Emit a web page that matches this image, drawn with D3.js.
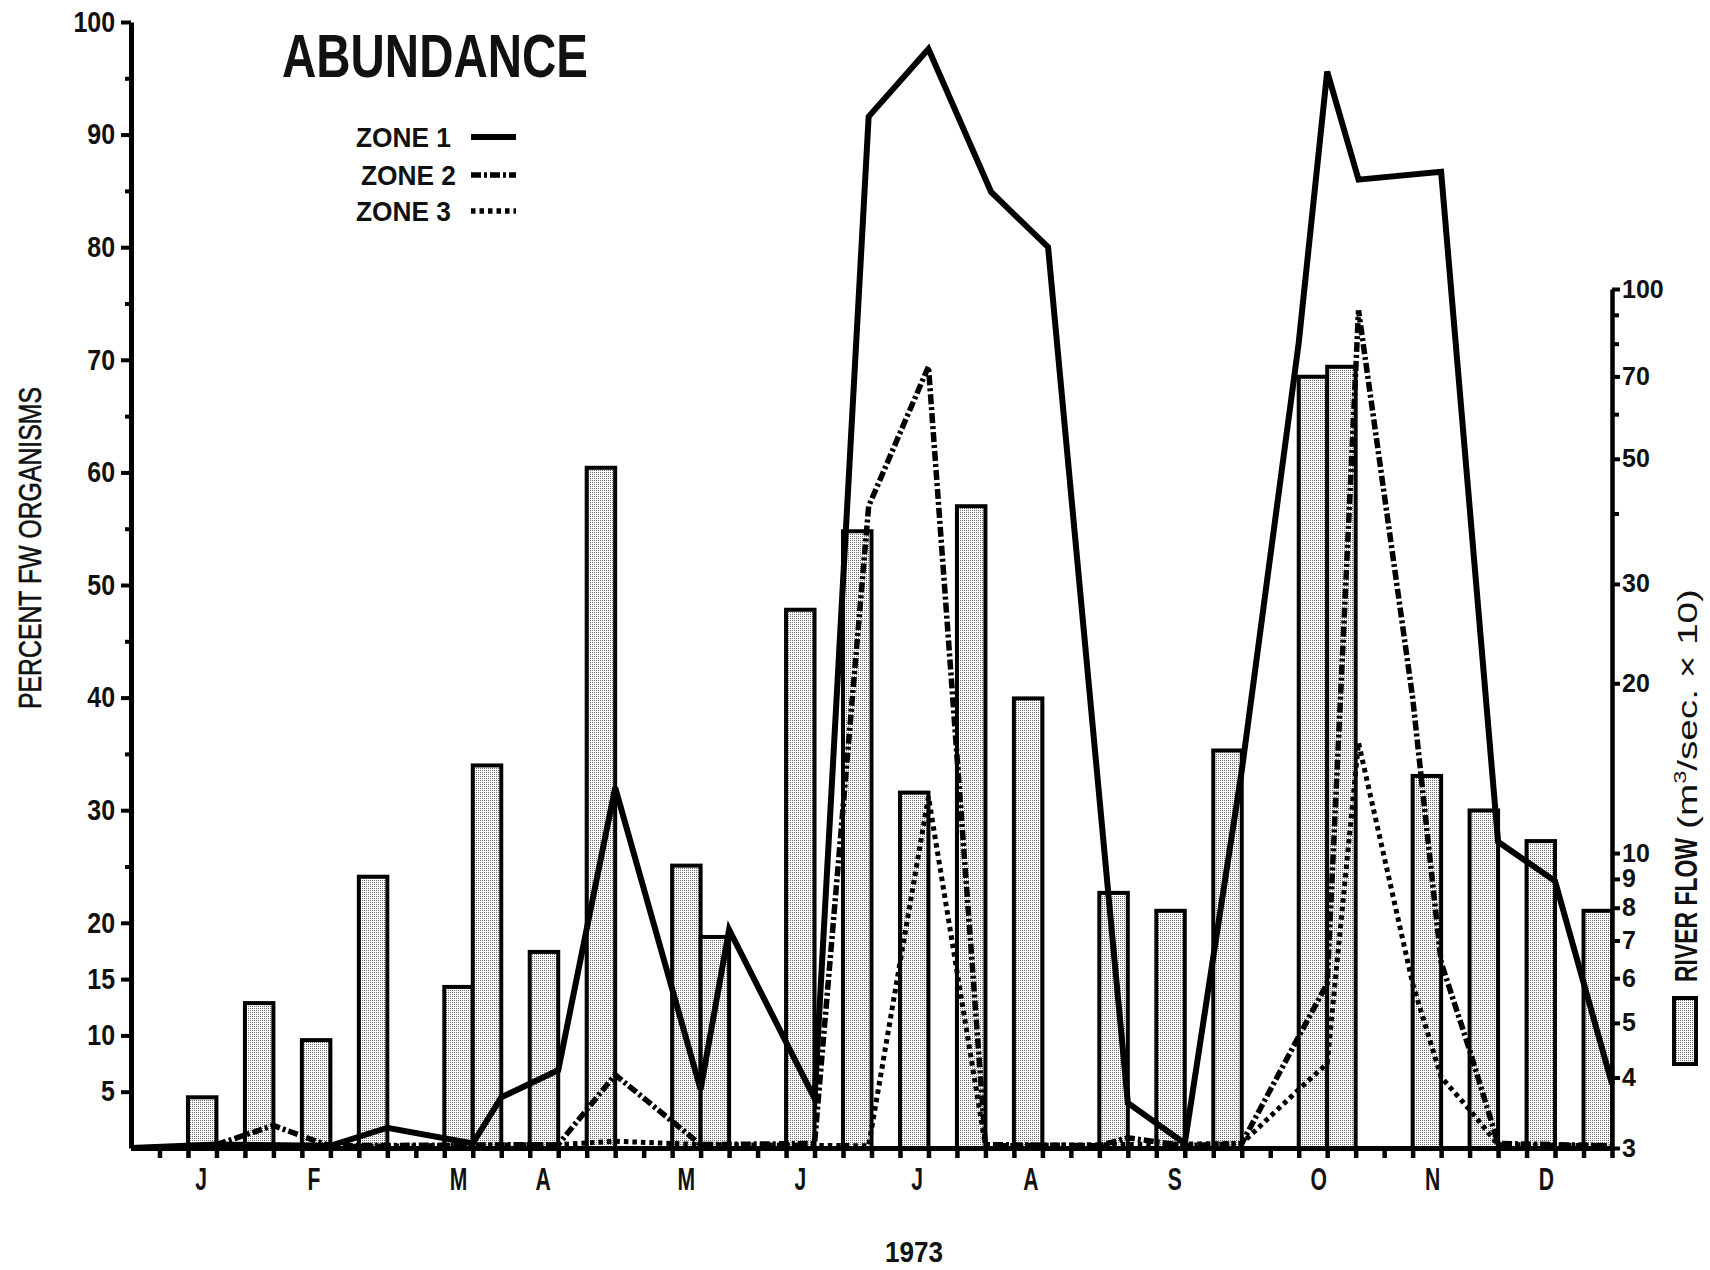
<!DOCTYPE html>
<html>
<head>
<meta charset="utf-8">
<script src="https://cdn.jsdelivr.net/npm/d3@7"></script>
<style>
  html, body { margin: 0; padding: 0; background: #fff; }
  svg { display: block; }
  text { font-family: "Liberation Sans", Arial, sans-serif; fill: #111; }
</style>
</head>
<body>
<svg id="chart" width="1710" height="1270"></svg>
<script>
// Time axis is in weeks of 1973 (0 = 1 January, 52 = end of December)
const monthLabels = ["J", "F", "M", "A", "M", "J", "J", "A", "S", "O", "N", "D"];
const monthWeeks  = [2.46, 6.42, 11.5, 14.47, 19.5, 23.5, 27.6, 31.6, 36.65, 41.7, 45.7, 49.7];

// Left axis: percent of freshwater organisms
const percentTicks      = [5, 10, 15, 20, 30, 40, 50, 60, 70, 80, 90, 100];
const percentMinorTicks = [25, 35, 45, 55, 65, 75, 85, 95];

// Right axis: river flow (m3/sec x 10), log scale
const flowTicksLabelled = [3, 4, 5, 6, 7, 8, 9, 10, 20, 30, 50, 70, 100];
const flowTicksPlain    = [40, 60, 80, 90];

// Weekly river flow bars (start week of each bar, value)
const flowWeeks  = [2, 4, 6, 8, 11, 12, 14, 16, 19, 20, 23, 25, 27, 29, 31, 34, 36, 38, 41, 42, 45, 47, 49, 51];
const flowValues = [3.69, 5.42, 4.66, 9.08, 5.79, 14.3, 6.68, 48.2, 9.5, 7.1, 27.0, 37.2,
                    12.8, 41.2, 18.8, 8.5, 7.9, 15.2, 69.9, 72.8, 13.7, 11.9, 10.5, 7.9];

// Percent FW organisms per zone: [week, percent]
const zone1 = [[0, 0], [3, 0.3], [7, 0.2], [9, 1.8], [12, 0.4], [13, 4.5], [15, 6.9], [17, 32],
               [20, 5.2], [21, 19.4], [24, 4.4], [25.9, 91.6], [28, 97.6], [30.2, 84.9], [32.2, 80],
               [35, 4.0], [37, 0.4], [39, 33.5], [41, 71.5], [42, 95.6], [43.1, 86], [46, 86.7],
               [48, 27.2], [50, 23.7], [52, 5.7]];
const zone2 = [[3, 0.3], [5, 2.0], [6.4, 0.7], [7, 0.2], [15, 0.3], [17, 6.5], [20, 0.3], [24, 0.4],
               [25.9, 57], [28, 69.4], [30, 0.3], [34, 0.2], [35, 0.9], [37, 0.2], [39, 0.4],
               [41, 9.9], [42, 14.6], [43.1, 74.4], [45, 40], [46, 16.5], [47, 8.7], [48, 0.4], [52, 0.2]];
const zone3 = [[0, 0], [15, 0.3], [17, 0.6], [20, 0.3], [25.9, 0.2], [28, 31.2], [30, 0.2], [39, 0.4],
               [41, 5.2], [42, 7.5], [43.1, 36], [45, 14.6], [46, 6.3], [47, 3.4], [48, 0.3], [52, 0.2]];

const zoneNames = ["ZONE 1", "ZONE 2", "ZONE 3"];

const svg = d3.select("#chart");

// Scales
const x  = d3.scaleLinear().domain([0, 52]).range([131, 1612]);
const yL = d3.scaleLinear().domain([0, 100]).range([1148, 22]);
const yR = d3.scaleLog().domain([3, 100]).range([1148, 289]);

// Squeeze text horizontally to imitate a condensed typeface
function condense(sel, f) {
  sel.each(function () {
    const len = this.getComputedTextLength();
    this.setAttribute("textLength", len * f);
    this.setAttribute("lengthAdjust", "spacingAndGlyphs");
  });
}
function fitTo(sel, len, adjust) {
  sel.attr("textLength", len).attr("lengthAdjust", adjust || "spacingAndGlyphs");
}

// Stippled fill for the flow bars
const defs = svg.append("defs");
const pat = defs.append("pattern").attr("id", "stipple")
  .attr("patternUnits", "userSpaceOnUse").attr("width", 2).attr("height", 2);
pat.append("rect").attr("width", 2).attr("height", 2).attr("fill", "#fff");
pat.append("rect").attr("width", 1).attr("height", 1).attr("fill", "#6e6e6e");

// River flow bars
svg.append("g").attr("class", "bars")
  .selectAll("rect")
  .data(flowWeeks.map((w, i) => ({ w, v: flowValues[i] })))
  .join("rect")
  .attr("x", d => x(d.w))
  .attr("width", d => x(d.w + 1) - x(d.w))
  .attr("y", d => yR(d.v))
  .attr("height", d => yR(3) - yR(d.v))
  .attr("fill", "url(#stipple)")
  .attr("stroke", "#000")
  .attr("stroke-width", 4);

// Zone lines
const zone2Dash = "10 3 3 3";
const zone3Dash = "4.5 4";
const line = d3.line().x(d => x(d[0])).y(d => yL(d[1]));
const zoneStyles = [
  { data: zone3, width: 5, dash: zone3Dash },
  { data: zone2, width: 5.5, dash: zone2Dash },
  { data: zone1, width: 6, dash: null }
];
svg.append("g").attr("class", "zones")
  .selectAll("path")
  .data(zoneStyles)
  .join("path")
  .attr("d", d => line(d.data))
  .attr("fill", "none")
  .attr("stroke", "#000")
  .attr("stroke-width", d => d.width)
  .attr("stroke-dasharray", d => d.dash)
  .attr("stroke-linejoin", "miter")
  .attr("stroke-miterlimit", 4);

// Bottom axis: one tick per week
const xAxis = svg.append("g").attr("transform", `translate(0,${yL(0)})`)
  .call(d3.axisBottom(x).tickValues(d3.range(1, 53)).tickSize(10).tickSizeOuter(0).tickFormat(""));
xAxis.select(".domain").attr("stroke-width", 5);
xAxis.selectAll(".tick line").attr("stroke-width", 4.5);

svg.append("g").selectAll("text")
  .data(monthLabels.map((m, i) => ({ m, w: monthWeeks[i] })))
  .join("text")
  .attr("x", d => x(d.w))
  .attr("y", 1190)
  .attr("text-anchor", "middle")
  .attr("font-size", 32)
  .attr("font-weight", "bold")
  .text(d => d.m)
  .call(condense, 0.66);

svg.append("text")
  .attr("x", 914).attr("y", 1262)
  .attr("text-anchor", "middle")
  .attr("font-size", 30).attr("font-weight", "bold")
  .text("1973")
  .call(fitTo, 58);

// Left axis
const leftAxis = svg.append("g").attr("transform", `translate(${x(0)},0)`)
  .call(d3.axisLeft(yL).tickValues(percentTicks).tickSize(10).tickSizeOuter(0).tickPadding(6));
leftAxis.select(".domain").attr("stroke-width", 5);
leftAxis.selectAll(".tick line").attr("stroke-width", 4);
leftAxis.selectAll(".tick text")
  .attr("font-size", 29).attr("font-weight", "bold").attr("fill", "#111")
  .attr("font-family", "Liberation Sans, Arial, sans-serif")
  .call(condense, 0.86);

const leftMinor = svg.append("g").attr("transform", `translate(${x(0)},0)`)
  .call(d3.axisLeft(yL).tickValues(percentMinorTicks).tickSize(6).tickSizeOuter(0).tickFormat(""));
leftMinor.select(".domain").remove();
leftMinor.selectAll(".tick line").attr("stroke-width", 4);

svg.append("text")
  .attr("transform", `translate(41,548) rotate(-90)`)
  .attr("text-anchor", "middle")
  .attr("font-size", 32)
  .attr("stroke", "#111").attr("stroke-width", 0.6)
  .text("PERCENT FW ORGANISMS")
  .call(fitTo, 322);

// Right axis
const rightAxis = svg.append("g").attr("transform", `translate(${x(52)},0)`)
  .call(d3.axisRight(yR).tickValues(flowTicksLabelled).tickSize(8).tickSizeOuter(0)
    .tickPadding(2).tickFormat(d3.format("d")));
rightAxis.select(".domain").attr("stroke-width", 4.5);
rightAxis.selectAll(".tick line").attr("stroke-width", 4);
rightAxis.selectAll(".tick text")
  .attr("font-size", 25).attr("font-weight", "bold").attr("fill", "#111")
  .attr("font-family", "Liberation Sans, Arial, sans-serif");

const rightMinor = svg.append("g").attr("transform", `translate(${x(52)},0)`)
  .call(d3.axisRight(yR).tickValues(flowTicksPlain).tickSize(7).tickSizeOuter(0).tickFormat(""));
rightMinor.select(".domain").remove();
rightMinor.selectAll(".tick line").attr("stroke-width", 4);

// Right axis title and bar key
svg.append("text")
  .attr("transform", `translate(1697,910) rotate(-90)`)
  .attr("text-anchor", "middle")
  .attr("font-size", 31).attr("font-weight", "bold")
  .text("RIVER FLOW")
  .call(condense, 0.74);

const unit = svg.append("text")
  .attr("transform", `translate(1697,709) rotate(-90)`)
  .attr("text-anchor", "middle")
  .attr("font-size", 28);
unit.append("tspan").text("(m");
unit.append("tspan").attr("dy", -11).attr("font-size", 17).text("3");
unit.append("tspan").attr("dy", 11).text("/sec.  \u00d7  10)");
unit.call(fitTo, 240);

svg.append("rect")
  .attr("x", 1674).attr("y", 998).attr("width", 22).attr("height", 66)
  .attr("fill", "url(#stipple)").attr("stroke", "#000").attr("stroke-width", 4);

// Title
svg.append("text")
  .attr("x", 282).attr("y", 77)
  .attr("font-size", 62).attr("font-weight", "bold")
  .text("ABUNDANCE")
  .call(fitTo, 306);

// Zone legend
const legendY = [147, 185, 221];
const legendDash = [null, zone2Dash, zone3Dash];
const lg = svg.append("g").selectAll("g")
  .data(zoneNames.map((n, i) => ({ n, i })))
  .join("g");
lg.append("text")
  .attr("x", d => d.i === 1 ? 361 : 356)
  .attr("y", d => legendY[d.i])
  .attr("font-size", 28).attr("font-weight", "bold")
  .text(d => d.n)
  .call(fitTo, 95);
lg.append("line")
  .attr("x1", 471).attr("x2", 516)
  .attr("y1", d => legendY[d.i] - 10).attr("y2", d => legendY[d.i] - 10)
  .attr("stroke", "#000").attr("stroke-width", d => d.i === 0 ? 6 : 5.5)
  .attr("stroke-dasharray", d => legendDash[d.i]);
</script>
</body>
</html>
